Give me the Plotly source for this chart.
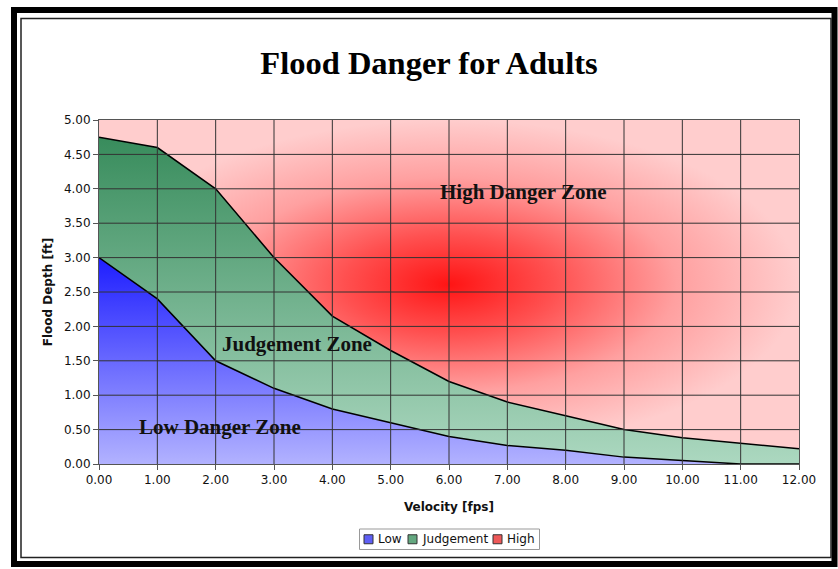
import plotly.graph_objects as go

# ---- data ----
velocity = [0, 1, 2, 3, 4, 5, 6, 7, 8, 9, 10, 11, 12]
low_top = [3.00, 2.40, 1.50, 1.10, 0.80, 0.60, 0.40, 0.27, 0.20, 0.10, 0.05, 0.00, 0.00]
judgement_top = [4.75, 4.60, 4.00, 3.00, 2.15, 1.65, 1.20, 0.90, 0.70, 0.50, 0.38, 0.30, 0.22]
high_top = [5.00] * 13
x_ticks = [0, 1, 2, 3, 4, 5, 6, 7, 8, 9, 10, 11, 12]
y_ticks = [0, 0.5, 1.0, 1.5, 2.0, 2.5, 3.0, 3.5, 4.0, 4.5, 5.0]
legend_names = ["Low", "Judgement", "High"]
legend_colors = ["rgb(95,95,245)", "rgb(100,168,128)", "rgb(238,88,88)"]

# ---- layout geometry (pixels) ----
W, H = 838, 569
ML, MR, MT, MB = 99, 39, 120, 105
PW, PH = W - ML - MR, H - MT - MB


def px(xp):
    return (xp - ML) / PW


def py(yp):
    return (H - MB - yp) / PH


fig = go.Figure()

fig.add_trace(go.Scatter(
    x=velocity, y=low_top, mode="lines", fill="tozeroy", name="Low",
    line=dict(color="black", width=1.5),
    fillgradient=dict(type="vertical", start=0, stop=3,
                      colorscale=[[0, "rgb(178,178,255)"], [1, "rgb(30,30,255)"]]),
    showlegend=False, hoverinfo="skip"))

fig.add_trace(go.Scatter(
    x=velocity, y=judgement_top, mode="lines", fill="tonexty", name="Judgement",
    line=dict(color="black", width=1.5),
    fillgradient=dict(type="vertical", start=0, stop=4.75,
                      colorscale=[[0, "rgb(172,216,192)"], [1, "rgb(56,140,92)"]]),
    showlegend=False, hoverinfo="skip"))

fig.add_trace(go.Scatter(
    x=velocity, y=high_top, mode="lines", fill="tonexty", name="High",
    line=dict(color="rgba(0,0,0,0)", width=0),
    fillgradient=dict(type="radial",
                      colorscale=[[0, "rgb(255,20,20)"], [0.3, "rgb(255,80,80)"],
                                  [0.65, "rgb(255,160,160)"], [1, "rgb(255,205,205)"]]),
    showlegend=False, hoverinfo="skip"))

shapes = []
for xv in x_ticks[1:-1]:
    shapes.append(dict(type="line", xref="x", yref="y", x0=xv, x1=xv, y0=0, y1=5,
                       line=dict(color="#333", width=1), layer="above"))
for yv in y_ticks[1:-1]:
    shapes.append(dict(type="line", xref="x", yref="y", x0=0, x1=12, y0=yv, y1=yv,
                       line=dict(color="#333", width=1), layer="above"))
# outer frame
shapes.append(dict(type="rect", xref="paper", yref="paper",
                   x0=px(14), x1=px(834.5), y0=py(564), y1=py(10),
                   line=dict(color="black", width=6), layer="above"))
shapes.append(dict(type="rect", xref="paper", yref="paper",
                   x0=px(21), x1=px(831), y0=py(557.5), y1=py(18.5),
                   line=dict(color="#222", width=1.5), layer="above"))

annotations = [
    dict(text="<b>High Danger Zone</b>", x=7.27, y=3.95, xref="x", yref="y",
         showarrow=False, font=dict(family="Liberation Serif", size=21, color="#111")),
    dict(text="<b>Judgement Zone</b>", x=3.39, y=1.74, xref="x", yref="y",
         showarrow=False, font=dict(family="Liberation Serif", size=21, color="#111")),
    dict(text="<b>Low Danger Zone</b>", x=2.07, y=0.54, xref="x", yref="y",
         showarrow=False, font=dict(family="Liberation Serif", size=21, color="#111")),
]

# ---- legend (compact boxed legend, as in the original) ----
LEG_X0, LEG_X1, LEG_Y0, LEG_Y1 = 359.5, 539.5, 529, 549.5
swatch_x = [364, 408, 493]
SW = 9
shapes.append(dict(type="rect", xref="paper", yref="paper",
                   x0=px(LEG_X0), x1=px(LEG_X1), y0=py(LEG_Y1), y1=py(LEG_Y0),
                   line=dict(color="#999", width=1), fillcolor="white", layer="above"))
ymid = (LEG_Y0 + LEG_Y1) / 2
for sx, name, col in zip(swatch_x, legend_names, legend_colors):
    shapes.append(dict(type="rect", xref="paper", yref="paper",
                       x0=px(sx), x1=px(sx + SW), y0=py(ymid + SW / 2), y1=py(ymid - SW / 2),
                       line=dict(color="#333", width=1), fillcolor=col, layer="above"))
    annotations.append(dict(text=name, xref="paper", yref="paper",
                            x=px(sx + SW + 3), y=py(ymid), xanchor="left", yanchor="middle",
                            showarrow=False,
                            font=dict(family="DejaVu Sans", size=12, color="#111")))

fig.update_layout(
    width=W, height=H,
    margin=dict(l=ML, r=MR, t=MT, b=MB),
    paper_bgcolor="white", plot_bgcolor="white",
    showlegend=False,
    title=dict(text="<b>Flood Danger for Adults</b>", x=429 / W, xanchor="center",
               y=1 - 63 / H, yanchor="middle",
               font=dict(family="Liberation Serif", size=32.5, color="black")),
    font=dict(family="DejaVu Sans", size=12, color="#111"),
    xaxis=dict(range=[0, 12], tickvals=x_ticks, tickformat=".2f",
               showgrid=False, zeroline=False, showline=True, mirror=True,
               linecolor="#555", linewidth=1, ticks="outside", ticklen=5,
               tickcolor="#555",
               title=dict(text="<b>Velocity [fps]</b>", standoff=16,
                          font=dict(family="DejaVu Sans", size=12))),
    yaxis=dict(range=[0, 5], tickvals=y_ticks, tickformat=".2f",
               showgrid=False, zeroline=False, showline=True, mirror=True,
               linecolor="#555", linewidth=1, ticks="outside", ticklen=5,
               tickcolor="#555",
               title=dict(text="<b>Flood Depth [ft]</b>", standoff=8,
                          font=dict(family="DejaVu Sans", size=12))),
    shapes=shapes,
    annotations=annotations,
)

fig.write_html("out.html", config={"displayModeBar": False},
               post_script="document.body.style.margin='0px';document.body.style.overflow='hidden';")
